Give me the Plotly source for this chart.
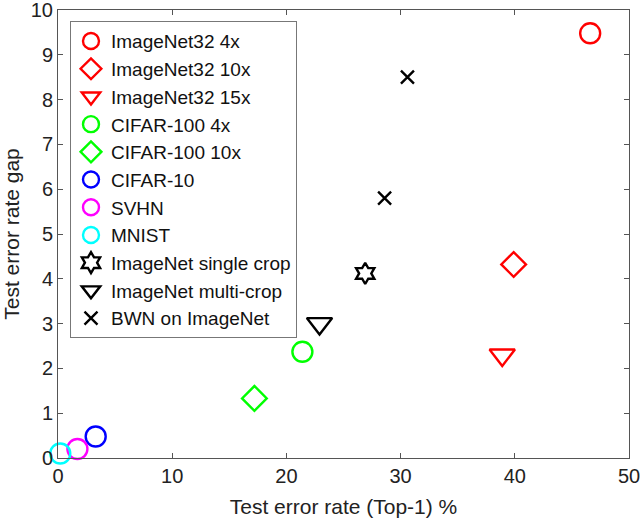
import plotly.graph_objects as go

names = ["ImageNet32 4x", "ImageNet32 10x", "ImageNet32 15x", "CIFAR-100 4x",
         "CIFAR-100 10x", "CIFAR-10", "SVHN", "MNIST",
         "ImageNet single crop", "ImageNet multi-crop", "BWN on ImageNet"]
x_vals = [[46.6], [39.9], [38.9], [21.4], [17.2], [3.3], [1.7], [0.2], [26.9], [22.9], [30.6, 28.6]]
y_vals = [[9.48], [4.32], [2.3], [2.37], [1.33], [0.48], [0.2], [0.1], [4.12], [3.0], [8.5, 5.8]]
colors = ["#ff0000", "#ff0000", "#ff0000", "#00ff00", "#00ff00", "#0000ff",
          "#ff00ff", "#00ffff", "#000000", "#000000", "#000000"]
symbols = ["circle-open", "diamond-open", "triangle-down-open", "circle-open",
           "diamond-open", "circle-open", "circle-open", "circle-open",
           "hexagram-open", "triangle-down-open", "x-thin-open"]
sizes = [20, 19, 22, 20, 19, 20, 20, 20, 16, 22, 13]

fig = go.Figure()
for n, xs, ys, c, s, sz in zip(names, x_vals, y_vals, colors, symbols, sizes):
    fig.add_trace(go.Scatter(x=xs, y=ys, mode="markers", name=n, cliponaxis=False,
                             marker=dict(symbol=s, size=sz, color=c,
                                         line=dict(color=c, width=2.4))))

axis_common = dict(showgrid=False, zeroline=False, showline=True, mirror="ticks",
                   linecolor="#555", linewidth=1, ticks="inside", ticklen=5,
                   tickcolor="#555", tickfont=dict(size=20, color="#222"),
                   automargin=False, ticklabeloverflow="allow")
fig.update_xaxes(range=[0, 50], dtick=10, title=dict(text="Test error rate (Top-1) %",
                 font=dict(size=21, color="#222"), standoff=13), **axis_common)
fig.update_yaxes(range=[0, 10], dtick=1, title=dict(text="Test error rate gap",
                 font=dict(size=21, color="#222"), standoff=8), **axis_common)
fig.update_layout(
    width=640, height=520,
    margin=dict(l=58, r=11, t=10, b=62),
    paper_bgcolor="white", plot_bgcolor="white",
    font=dict(family="Liberation Sans, Arial, sans-serif", color="#222"),
    legend=dict(x=0.021, y=0.975, xanchor="left", yanchor="top",
                bordercolor="#777", borderwidth=1, bgcolor="white",
                font=dict(size=19, color="#111"), itemsizing="trace",
                tracegroupgap=0),
)
fig.write_html("out.html", config={"displayModeBar": False},
               post_script="document.body.style.margin='0';")
